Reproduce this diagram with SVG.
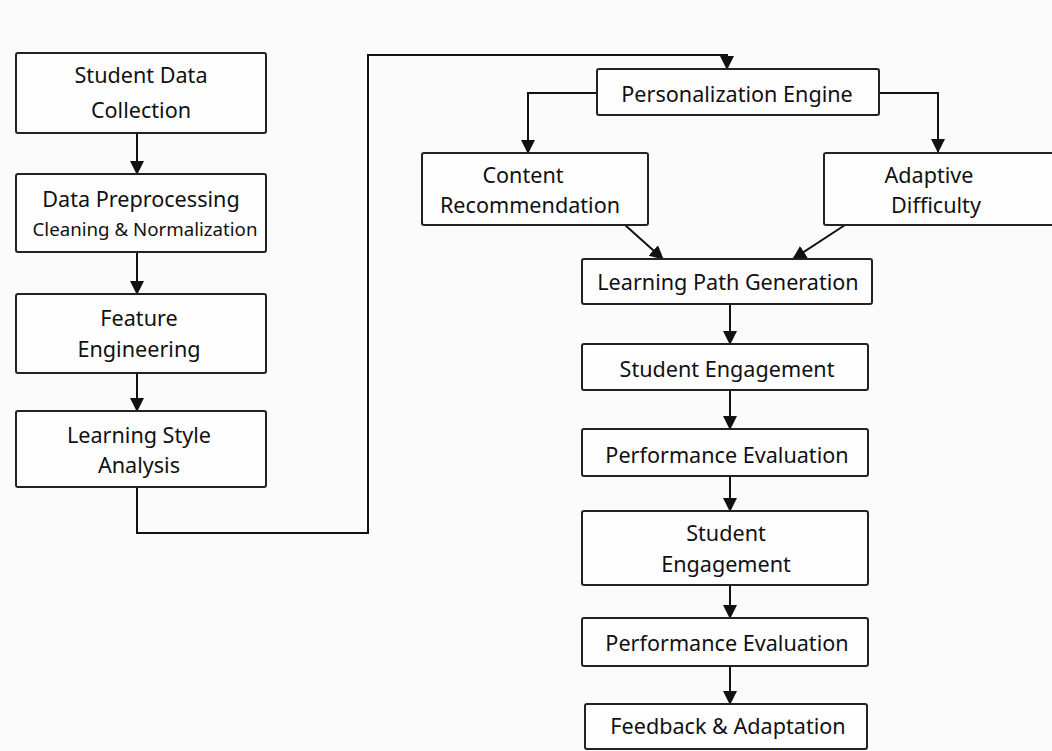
<svg xmlns="http://www.w3.org/2000/svg" width="1052" height="751" viewBox="0 0 1052 751">
<style>
.box{fill:#fefefe;stroke:#222;stroke-width:2}
.t{font-family:"Noto Sans","Open Sans","DejaVu Sans",sans-serif;font-size:21.6px;fill:#111;text-anchor:middle}
.s{font-size:18.7px}
.c{fill:none;stroke:#111;stroke-width:2}
</style>
<defs>
<marker id="ah" markerWidth="14" markerHeight="14" viewBox="0 0 14 14" refX="13" refY="7" orient="auto" markerUnits="userSpaceOnUse">
<path d="M0,0 L14,7 L0,14 Z" fill="#111"/>
</marker>
</defs>
<rect width="1052" height="751" fill="#fbfbfb"/>
<g id="connectors">
<path class="c" d="M137,133 V174" marker-end="url(#ah)"/>
<path class="c" d="M137,252 V294" marker-end="url(#ah)"/>
<path class="c" d="M137,373 V411" marker-end="url(#ah)"/>
<path class="c" d="M137,487 V533 H368 V55 H727 V69" marker-end="url(#ah)"/>
<path class="c" d="M597,93 H528 V153" marker-end="url(#ah)"/>
<path class="c" d="M879,93 H938 V152" marker-end="url(#ah)"/>
<path class="c" d="M625,225 L663,259" marker-end="url(#ah)"/>
<path class="c" d="M845,225 L793,259" marker-end="url(#ah)"/>
<path class="c" d="M730,304 V344" marker-end="url(#ah)"/>
<path class="c" d="M730,390 V429" marker-end="url(#ah)"/>
<path class="c" d="M730,476 V511" marker-end="url(#ah)"/>
<path class="c" d="M730,585 V618" marker-end="url(#ah)"/>
<path class="c" d="M730,666 V704" marker-end="url(#ah)"/>
</g>
<g id="n1"><rect class="box" x="16" y="53" width="250" height="80" rx="2"/>
<text class="t" x="141" y="83">Student Data</text><text class="t" x="141" y="118">Collection</text></g>
<g id="n2"><rect class="box" x="16" y="174" width="250" height="78" rx="2"/>
<text class="t" x="141" y="207">Data Preprocessing</text><text class="t s" x="145" y="236">Cleaning &amp; Normalization</text></g>
<g id="n3"><rect class="box" x="16" y="294" width="250" height="79" rx="2"/>
<text class="t" x="139" y="326">Feature</text><text class="t" x="139" y="357">Engineering</text></g>
<g id="n4"><rect class="box" x="16" y="411" width="250" height="76" rx="2"/>
<text class="t" x="139" y="443">Learning Style</text><text class="t" x="139" y="473">Analysis</text></g>
<g id="n5"><rect class="box" x="597" y="69" width="282" height="46" rx="2"/>
<text class="t" x="737" y="102">Personalization Engine</text></g>
<g id="n6"><rect class="box" x="422" y="153" width="226" height="72" rx="2"/>
<text class="t" x="523" y="183">Content</text><text class="t" x="530" y="213">Recommendation</text></g>
<g id="n7"><rect class="box" x="824" y="153" width="240" height="72" rx="2"/>
<text class="t" x="929" y="183">Adaptive</text><text class="t" x="936" y="213">Difficulty</text></g>
<g id="n8"><rect class="box" x="582" y="259" width="290" height="45" rx="2"/>
<text class="t" x="728" y="290">Learning Path Generation</text></g>
<g id="n9"><rect class="box" x="582" y="344" width="286" height="46" rx="2"/>
<text class="t" x="727" y="377">Student Engagement</text></g>
<g id="n10"><rect class="box" x="582" y="429" width="286" height="47" rx="2"/>
<text class="t" x="727" y="463">Performance Evaluation</text></g>
<g id="n11"><rect class="box" x="582" y="511" width="286" height="74" rx="2"/>
<text class="t" x="726" y="541">Student</text><text class="t" x="726" y="572">Engagement</text></g>
<g id="n12"><rect class="box" x="582" y="618" width="286" height="48" rx="2"/>
<text class="t" x="727" y="651">Performance Evaluation</text></g>
<g id="n13"><rect class="box" x="585" y="704" width="282" height="45" rx="2"/>
<text class="t" x="728" y="734">Feedback &amp; Adaptation</text></g>
</svg>
